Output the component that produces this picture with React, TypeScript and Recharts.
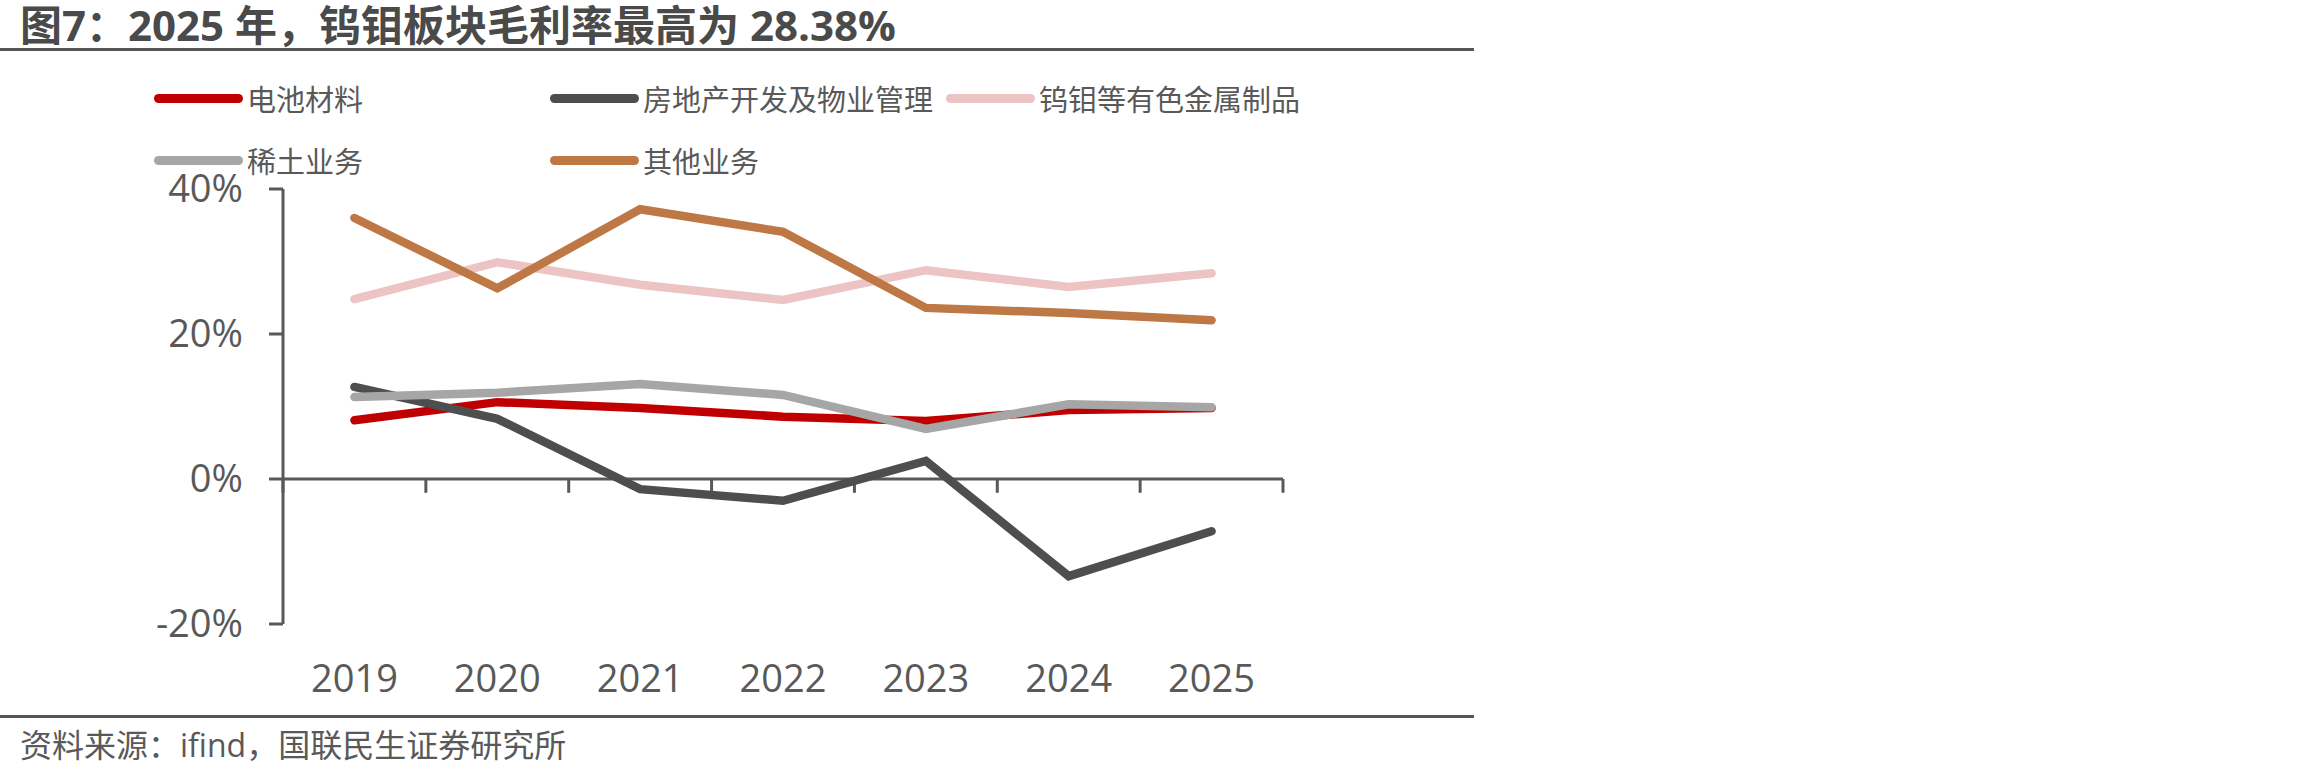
import { Line, LineChart, ReferenceLine, XAxis, YAxis } from 'recharts';

const YEARS = ['2019', '2020', '2021', '2022', '2023', '2024', '2025'];
const BATTERY = [8.1, 10.6, 9.8, 8.6, 8.0, 9.5, 9.8];
const REALTY = [12.7, 8.3, -1.4, -3.0, 2.5, -13.4, -7.2];
const TUNGSTEN = [24.8, 29.9, 26.8, 24.7, 28.8, 26.5, 28.38];
const RARE_EARTH = [11.3, 11.9, 13.1, 11.6, 6.9, 10.3, 9.9];
const OTHER = [36.0, 26.3, 37.2, 34.1, 23.6, 22.9, 21.9];
const Y_TICKS = [-20, 0, 20, 40];

const SERIES = [
  { key: 'battery', name: '电池材料', color: '#c00000', values: BATTERY },
  { key: 'realty', name: '房地产开发及物业管理', color: '#4d4e50', values: REALTY },
  { key: 'tungsten', name: '钨钼等有色金属制品', color: '#ecc4c4', values: TUNGSTEN },
  { key: 'rareEarth', name: '稀土业务', color: '#a6a6a6', values: RARE_EARTH },
  { key: 'other', name: '其他业务', color: '#bd7845', values: OTHER },
];

const FONT = '"Open Sans", "Noto Sans CJK SC", sans-serif';
const AXIS = '#595959';
const TEXT = '#595959';

// each year sits in the middle of its own slot, slot edges carry the tick marks
const rows = YEARS.map((year, i) => {
  const row: Record<string, number | string> = { year, pos: i + 0.5 };
  SERIES.forEach((s) => {
    row[s.key] = s.values[i];
  });
  return row;
});
const labelPos = YEARS.map((_, i) => i + 0.5);
const slotEdges = Array.from({ length: YEARS.length + 1 }, (_, i) => i);

const ChartLegend = () => (
  <div>
    {SERIES.map((s, i) => (
      <div
        key={s.key}
        style={{
          position: 'absolute',
          left: 154 + (i % 3) * 396,
          top: 80 + Math.floor(i / 3) * 62,
          height: 36,
          display: 'flex',
          alignItems: 'center',
        }}
      >
        <span
          style={{ width: 89, height: 9, borderRadius: 5, background: s.color, flexShrink: 0 }}
        />
        <span style={{ marginLeft: 4, fontSize: 29, color: TEXT, whiteSpace: 'nowrap' }}>
          {s.name}
        </span>
      </div>
    ))}
  </div>
);

export default function App() {
  return (
    <div
      style={{
        position: 'absolute',
        left: 0,
        top: 0,
        width: 2310,
        height: 778,
        background: '#fff',
        fontFamily: FONT,
        overflow: 'hidden',
      }}
    >
      <div
        style={{
          position: 'absolute',
          left: 20,
          top: 4,
          fontSize: 42,
          lineHeight: '42px',
          fontWeight: 700,
          color: '#4a4a4a',
          whiteSpace: 'nowrap',
        }}
      >
        图7：2025 年，钨钼板块毛利率最高为 28.38%
      </div>
      <div style={{ position: 'absolute', left: 0, top: 48, width: 1474, height: 3, background: '#555' }} />

      <ChartLegend />

      <LineChart
        width={2310}
        height={778}
        data={rows}
        margin={{ top: 189, right: 1027, bottom: 74, left: 0 }}
        style={{ position: 'absolute', left: 0, top: 0 }}
      >
        <XAxis
          dataKey="pos"
          type="number"
          domain={[0, YEARS.length]}
          ticks={labelPos}
          interval={0}
          tickFormatter={(v: number) => YEARS[Math.floor(v)]}
          axisLine={false}
          tickLine={false}
          tickSize={6}
          tickMargin={35}
          height={80}
          tick={{ fontSize: 38, fill: TEXT }}
        />
        <YAxis
          domain={[-20, 40]}
          ticks={Y_TICKS}
          interval={0}
          tickFormatter={(v: number) => `${v}%`}
          width={283}
          axisLine={{ stroke: AXIS, strokeWidth: 3 }}
          tickLine={{ stroke: AXIS, strokeWidth: 3 }}
          tickSize={14}
          tickMargin={26}
          tick={{ fontSize: 38, fill: TEXT }}
        />
        <ReferenceLine y={0} stroke={AXIS} strokeWidth={3} />
        {slotEdges.map((e) => (
          <ReferenceLine
            key={e}
            segment={[
              { x: e, y: 0 },
              { x: e, y: -1.9 },
            ]}
            stroke={AXIS}
            strokeWidth={3}
          />
        ))}
        {SERIES.map((s) => (
          <Line
            key={s.key}
            type="linear"
            dataKey={s.key}
            name={s.name}
            stroke={s.color}
            strokeWidth={8.5}
            strokeLinecap="round"
            dot={false}
            activeDot={false}
            isAnimationActive={false}
          />
        ))}
      </LineChart>

      <div style={{ position: 'absolute', left: 0, top: 715, width: 1474, height: 3, background: '#555' }} />
      <div
        style={{
          position: 'absolute',
          left: 20,
          top: 726,
          fontSize: 32,
          lineHeight: '38px',
          color: TEXT,
          whiteSpace: 'nowrap',
        }}
      >
        资料来源：ifind，国联民生证券研究所
      </div>
    </div>
  );
}
